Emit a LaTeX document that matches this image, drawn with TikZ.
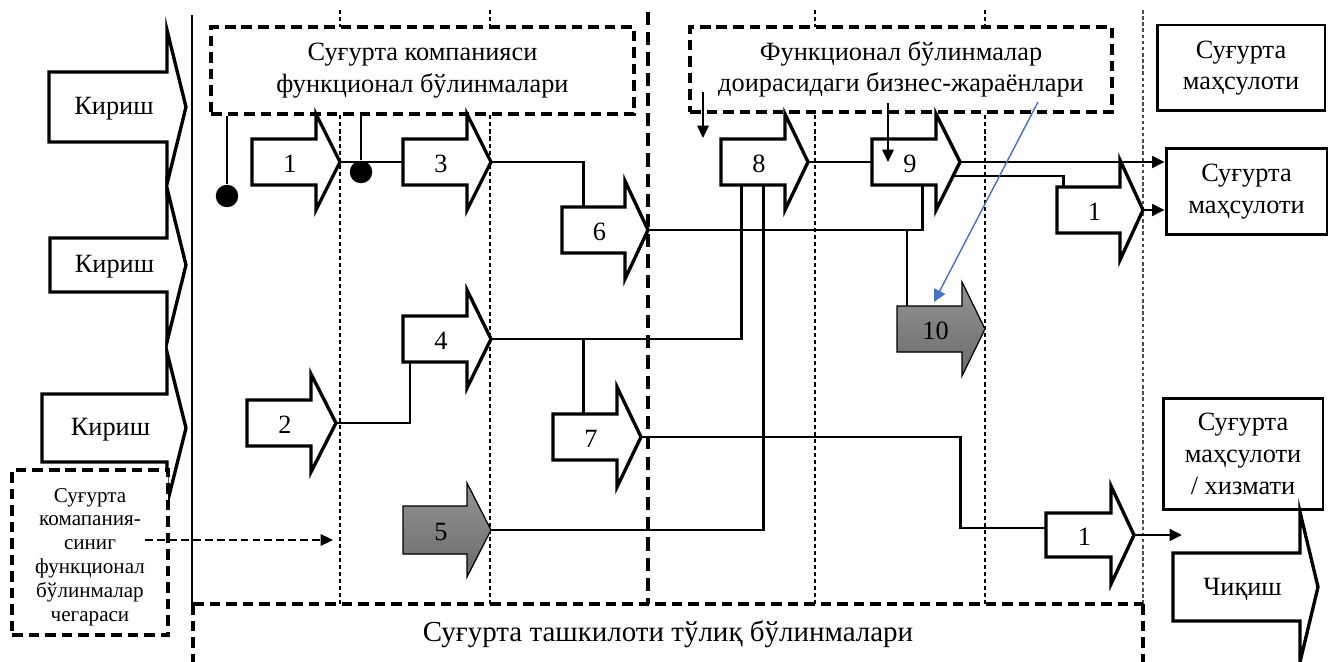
\documentclass[tikz,border=0pt]{standalone}
\usepackage{fontspec}
\setmainfont{Liberation Serif}
\usetikzlibrary{arrows.meta}

\begin{document}
\begin{tikzpicture}[x=0.02cm, y=-0.02cm,
    every node/.style={inner sep=0pt},
    bodytext/.style={font=\fontsize{15}{18}\selectfont, align=center},
    blockarrow/.style={draw=black, line width=1.9pt, fill=white},
    shadedarrow/.style={draw=black, line width=0.7pt, top color=shadeTop, bottom color=shadeBottom},
    dashbox/.style={draw=black, line width=1.9pt, dash pattern=on 6pt off 3.4pt, fill=white, bodytext},
    solidbox/.style={draw=black, line width=1.7pt, fill=white, bodytext},
    conn/.style={line width=1.7pt},
    thinconn/.style={line width=0.7pt},
    tipped/.style={-{Triangle[length=7pt,width=6.5pt]}},
    lanedash/.style={line width=0.7pt, dash pattern=on 2.3pt off 1.7pt},
    borderdash/.style={line width=2.4pt, dash pattern=on 7.5pt off 4pt},
    blackdot/.style={circle, fill=black, minimum size=0.45cm}]
    \definecolor{shadeTop}{HTML}{959595}
    \definecolor{shadeBottom}{HTML}{6A6A6A}
    \definecolor{linkBlue}{HTML}{4472C4}

    \useasboundingbox (0,0) rectangle (1328,662);

    % lanes
    \draw[thinconn] (192,15) -- (192,604);
    \foreach \x in {340,490,815,985}
        \draw[lanedash] (\x,10) -- (\x,604);
    \draw[line width=0.7pt, gray!60!black, dash pattern=on 2pt off 1.5pt] (1143,10) -- (1143,604);
    \draw[borderdash] (648,12) -- (648,604);
    \draw[line width=1.9pt, dash pattern=on 6pt off 3.4pt] (193,604) -- (1143,604);
    \draw[line width=1.9pt, dash pattern=on 6pt off 3.4pt] (193,604) -- (193,662);
    \draw[line width=1.9pt, dash pattern=on 6pt off 3.4pt] (1143,604) -- (1143,662);
    \node[font=\fontsize{16.5}{19}\selectfont] (whole) at (668,634) {Суғурта ташкилоти тўлиқ бўлинмалари};

    % boxes
    \node[dashbox, minimum width=8.46cm, minimum height=1.74cm] (fbox1) at (422.5,70.5) {Суғурта компанияси\\функционал бўлинмалари};
    \node[dashbox, minimum width=8.44cm, minimum height=1.70cm] (fbox2) at (901,69.5) {Функционал бўлинмалар\\доирасидаги бизнес-жараёнлари};
    \node[solidbox, minimum width=3.36cm, minimum height=1.72cm] (prod1) at (1241,68) {Суғурта\\маҳсулоти};
    \node[solidbox, minimum width=3.22cm, minimum height=1.74cm] (prod2) at (1246.5,191.5) {Суғурта\\маҳсулоти};
    \node[solidbox, minimum width=3.20cm, minimum height=2.24cm] (prod3) at (1243,454) {Суғурта\\маҳсулоти\\/ хизмати};

    % process arrows
    \foreach \nm/\xl/\xb/\xt/\yc/\bh/\hh/\lbl in {
        k1/49/167/186/107/35/77/Кириш, k2/50/167/186/265/27/77/Кириш,
        k3/42/167/186/428/34/76/Кириш,
        a1/252/316/340/162/23/48/1, a2/247/311/336/423/23/49/2,
        a3/403/467/491/162/23/48/3, a4/403/467/491/339/23/49/4,
        a6/562/625/648/230/23/49/6, a7/553/617/641/437/23/50/7,
        a8/721/785/808/162/23/48/8, a9/872/936/960/162/23/48/9,
        r1/1057/1120/1143/210/23/50/1, r2/1046/1111/1134/535/22/49/1,
        out/1173/1300/1318/587/34/75/Чиқиш}
    {
        \filldraw[blockarrow] (\xl,\yc-\bh) -- (\xb,\yc-\bh) -- (\xb,\yc-\hh) -- (\xt,\yc)
            -- (\xb,\yc+\hh) -- (\xb,\yc+\bh) -- (\xl,\yc+\bh) -- cycle;
        \coordinate (\nm-tip) at (\xt,\yc);
        \coordinate (\nm-in) at (\xl,\yc);
        \node[bodytext] (\nm) at ({(\xl+\xb)/2+6},\yc+2) {\lbl};
    }
    \foreach \nm/\xl/\xb/\xt/\yc/\bh/\hh/\lbl in {a5/403/467/491/530/24/47/5, a10/897/962/985/329/23/47/10}
    {
        \filldraw[shadedarrow] (\xl,\yc-\bh) -- (\xb,\yc-\bh) -- (\xb,\yc-\hh) -- (\xt,\yc)
            -- (\xb,\yc+\hh) -- (\xb,\yc+\bh) -- (\xl,\yc+\bh) -- cycle;
        \coordinate (\nm-tip) at (\xt,\yc);
        \node[bodytext] (\nm) at ({(\xl+\xb)/2+6},\yc+2) {\lbl};
    }

    \coordinate (a6-top) at (583,206);
    \coordinate (a9-bottom) at (922,185);
    \coordinate (a9-side) at (953,176);
    \coordinate (a10-top) at (907,306);
    \coordinate (a8-bottomleft) at (741,185);
    \coordinate (a8-bottomright) at (763,185);
    \coordinate (a7-top) at (583,413);
    \coordinate (a4-bottom) at (410,363);
    \coordinate (r1-top) at (1063,187);
    \coordinate (r2-bend) at (960,528);
    \coordinate (r2-out) at (1182,535);

    % links
    \draw[conn] (a1-tip) -- (a3-in);
    \draw[conn] (a3-tip) -| (a6-top);
    \draw[conn] (a6-tip) -| (a9-bottom);
    \draw[thinconn] (a10-top) -- (a10-top |- a6-tip);
    \draw[conn] (a4-tip) -| (a8-bottomleft);
    \draw[conn] (a7-top) -- (a7-top |- a4-tip);
    \draw[conn] (a2-tip) -| (a4-bottom);
    \draw[conn] (a5-tip) -| (a8-bottomright);
    \draw[conn] (a7-tip) -| (r2-bend) -- (r2-bend -| r2-in);
    \draw[conn] (a8-tip) -- (a9-in);
    \draw[conn, tipped] (a9-tip) -- (a9-tip -| prod2.west);
    \draw[conn] (a9-side) -| (r1-top);
    \draw[conn, tipped] (r1-tip) -- (r1-tip -| prod2.west);
    \draw[conn, tipped] (r2-tip) -- (r2-out);

    % pointers from the upper boxes
    \coordinate (f2-left) at (703,92);
    \coordinate (f2-mid) at (888,103);
    \coordinate (f2-right) at (1038,102);
    \coordinate (a10-mark) at (934,302);
    \draw[line width=1.1pt, tipped] (f2-left) -- (703,138);
    \draw[line width=1.1pt, tipped] (f2-mid) -- (f2-mid |- a9-tip);
    \draw[line width=0.8pt, linkBlue, -{Triangle[length=7pt,width=7pt]}] (f2-right) -- (a10-mark);

    \node[blackdot] (dot1) at (227,196) {};
    \node[blackdot] (dot2) at (361,172) {};
    \draw[thinconn] (dot1 |- fbox1.south) -- (dot1);
    \draw[thinconn] (dot2 |- fbox1.south) -- (dot2);

    % boundary note
    \node[draw=black, line width=1.9pt, dash pattern=on 6pt off 3.4pt, fill=white,
          minimum width=3.12cm, minimum height=3.3cm] (bound) at (90,552.5) {};
    \node[font=\fontsize{12}{13.6}\selectfont, align=center] (boundtext) at (90,557)
        {Суғурта\\комапания-\\синиг\\функционал\\бўлинмалар\\чегараси};
    \coordinate (bound-end) at (333,540);
    \draw[line width=1.1pt, dash pattern=on 4.5pt off 2.3pt, tipped] (145,540) -- (bound-end);

\end{tikzpicture}
\end{document}
